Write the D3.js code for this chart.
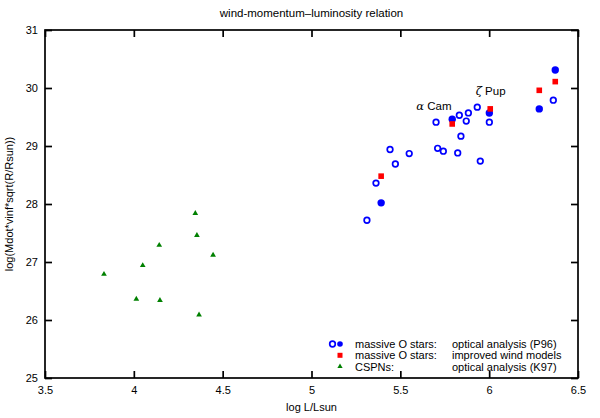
<!DOCTYPE html>
<html><head><meta charset="utf-8">
<script src="https://cdn.jsdelivr.net/npm/d3@7"></script>
<style>
body{margin:0;background:#fff;}
text{font-family:"Liberation Sans",Arial,Helvetica,sans-serif;}
</style></head>
<body><svg id="c" width="600" height="418"></svg>
<script>
// ---- data ----
const p96OpenX = [5.312,5.363,5.442,5.472,5.550,5.701,5.710,5.742,5.823,5.841,5.832,5.883,5.871,5.933,5.950,6.001,6.361];
const p96OpenY = [27.72,28.36,28.94,28.69,28.87,29.41,28.96,28.91,28.88,29.17,29.53,29.57,29.43,29.67,28.74,29.41,29.79];
const p96FilledX = [5.392,5.792,6.001,6.282,6.372];
const p96FilledY = [28.02,29.46,29.57,29.64,30.31];
const improvedX = [5.392,5.792,6.006,6.282,6.372];
const improvedY = [28.48,29.38,29.64,29.96,30.11];
const cspnX = [4.346,4.355,4.143,4.446,4.050,3.832,4.014,4.147,4.367];
const cspnY = [27.84,27.46,27.29,27.12,26.94,26.79,26.36,26.34,26.09];
const xTicks = [3.5,4,4.5,5,5.5,6,6.5];
const yTicks = [25,26,27,28,29,30,31];
const labels = [{g:"α",t:" Cam",x:5.59,y:29.62},{g:"ζ",t:" Pup",x:5.924,y:29.88}];
const legendRows = [
  {a:"massive O stars:", b:"optical analysis (P96)"},
  {a:"massive O stars:", b:"improved wind models"},
  {a:"CSPNs:", b:"optical analysis (K97)"}
];

const svg = d3.select("#c");
const L=45,R=578,T=30,B=378;
const x = d3.scaleLinear().domain([3.5,6.5]).range([L,R]);
const y = d3.scaleLinear().domain([25,31]).range([B,T]);

// title
svg.append("text").attr("x",(L+R)/2).attr("y",16.5).attr("text-anchor","middle")
  .attr("font-size",11.5).text("wind-momentum–luminosity relation");

// axes with inward ticks on all four sides
const fmt = d=>String(d);
svg.append("g").attr("transform",`translate(0,${B})`)
  .call(d3.axisBottom(x).tickValues(xTicks).tickFormat(fmt).tickSizeInner(-7).tickSizeOuter(0).tickPadding(8))
  .call(g=>{g.select(".domain").remove();g.selectAll("text").attr("font-size",11).attr("fill","#000");});
svg.append("g").attr("transform",`translate(0,${T})`)
  .call(d3.axisTop(x).tickValues(xTicks).tickFormat("").tickSizeInner(-7).tickSizeOuter(0))
  .call(g=>g.select(".domain").remove());
svg.append("g").attr("transform",`translate(${L},0)`)
  .call(d3.axisLeft(y).tickValues(yTicks).tickFormat(fmt).tickSizeInner(-7).tickSizeOuter(0).tickPadding(7))
  .call(g=>{g.select(".domain").remove();g.selectAll("text").attr("font-size",11).attr("fill","#000");});
svg.append("g").attr("transform",`translate(${R},0)`)
  .call(d3.axisRight(y).tickValues(yTicks).tickFormat("").tickSizeInner(-7).tickSizeOuter(0))
  .call(g=>g.select(".domain").remove());
svg.selectAll(".tick line").attr("stroke","#000").attr("stroke-width",1.7);
svg.append("rect").attr("x",L).attr("y",T).attr("width",R-L).attr("height",B-T)
  .attr("fill","none").attr("stroke","#000").attr("stroke-width",1.7);

// axis labels
svg.append("text").attr("x",(L+R)/2).attr("y",411).attr("text-anchor","middle")
  .attr("font-size",11).text("log L/Lsun");
svg.append("text").attr("transform",`translate(13,${(T+B)/2}) rotate(-90)`).attr("text-anchor","middle")
  .attr("font-size",11).text("log(Mdot*vinf*sqrt(R/Rsun))");

// markers
const tri = d3.symbol().type(d3.symbolTriangle).size(14);
svg.append("g").selectAll("path").data(cspnX).join("path")
  .attr("d",tri).attr("transform",(d,i)=>`translate(${x(d)},${y(cspnY[i])})`).attr("fill","#008000");
svg.append("g").selectAll("circle").data(p96OpenX).join("circle")
  .attr("cx",d=>x(d)).attr("cy",(d,i)=>y(p96OpenY[i])).attr("r",2.8)
  .attr("fill","none").attr("stroke","#0000ff").attr("stroke-width",1.7);
svg.append("g").selectAll("circle").data(p96FilledX).join("circle")
  .attr("cx",d=>x(d)).attr("cy",(d,i)=>y(p96FilledY[i])).attr("r",3.7).attr("fill","#0000ff");
svg.append("g").selectAll("rect").data(improvedX).join("rect")
  .attr("x",d=>x(d)-2.8).attr("y",(d,i)=>y(improvedY[i])-2.8).attr("width",5.6).attr("height",5.6).attr("fill","#ff0000");

// labels
labels.forEach(l=>{
  const t = svg.append("text").attr("x",x(l.x)).attr("y",y(l.y)).attr("font-size",11.5);
  t.append("tspan").attr("font-family","'DejaVu Serif',serif").attr("font-style","italic").text(l.g);
  t.append("tspan").text(l.t);
});

// legend
const lg = svg.append("g").attr("font-size",11);
const ly = [344,355.3,366.6];
legendRows.forEach((r,i)=>{
  lg.append("text").attr("x",355).attr("y",ly[i]+4).text(r.a);
  lg.append("text").attr("x",452).attr("y",ly[i]+4).text(r.b);
});
lg.append("circle").attr("cx",332.5).attr("cy",ly[0]).attr("r",2.8).attr("fill","none").attr("stroke","#0000ff").attr("stroke-width",1.7);
lg.append("circle").attr("cx",340).attr("cy",ly[0]).attr("r",2.8).attr("fill","#0000ff");
lg.append("rect").attr("x",337.5).attr("y",ly[1]-2.5).attr("width",5).attr("height",5).attr("fill","#ff0000");
lg.append("path").attr("d",d3.symbol().type(d3.symbolTriangle).size(12)).attr("transform",`translate(340,${ly[2]})`).attr("fill","#008000");
</script></body></html>
